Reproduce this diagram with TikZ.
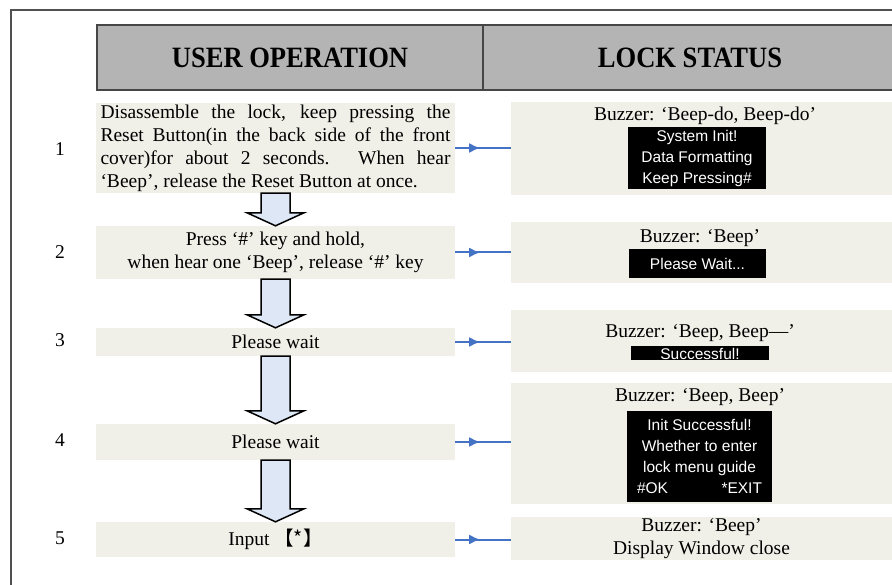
\documentclass[tikz,border=0pt]{standalone}
\usepackage{fontspec}
\setmainfont{Liberation Serif}
\newfontfamily\screenfont{Liberation Sans}
\newfontfamily\cjkfont{Noto Sans CJK SC}
\usepackage{graphicx}
\usetikzlibrary{calc,arrows.meta,decorations.markings}

\definecolor{boxfill}{RGB}{240,240,232}
\definecolor{headgray}{RGB}{180,180,180}
\definecolor{headline}{RGB}{70,70,70}
\definecolor{framegray}{RGB}{80,80,80}
\definecolor{linkblue}{RGB}{68,114,196}
\definecolor{arrowfill}{RGB}{222,231,246}

% big down arrow between two steps
\newcommand{\flowarrow}[2]{%
\draw[blockarrow] ($(#1.south)+(-14.5,0)$) -- ($(#2.north)+(-14.5,-13)$)
  -- ($(#2.north)+(-28.5,-13)$) -- (#2.north) -- ($(#2.north)+(28.5,-13)$)
  -- ($(#2.north)+(14.5,-13)$) -- ($(#1.south)+(14.5,0)$) -- cycle;}

\begin{document}
\begin{tikzpicture}[x=1pt,y=-1pt,
  every node/.style={font=\fontsize{19.5}{23}\selectfont},
  head/.style={draw=headline,line width=2,fill=headgray,minimum height=65,
    font=\bfseries\fontsize{29.5}{32}\selectfont},
  opbox/.style={fill=boxfill,minimum width=359,inner xsep=4.5,inner ysep=0},
  stbox/.style={fill=boxfill,minimum width=381,inner sep=0},
  screen/.style={fill=black,text=white,align=center,inner sep=0,
    font=\screenfont\fontsize{15.5}{21}\selectfont},
  link/.style={linkblue,line width=2,decoration={markings,
    mark=at position 0.45 with {\arrow{Latex[length=11,width=10]}}},postaction=decorate},
  blockarrow/.style={draw=black,line width=1.5,fill=arrowfill,line join=miter}]
\clip (0,0) rectangle (892,585);

% outer frame
\draw[framegray,line width=2] (11,600) -- (11,10) -- (900,10);

% header
\node[head,minimum width=386] (hop) at (290,57.5) {\scalebox{0.9}[1]{USER OPERATION}};
\node[head,minimum width=414] (hst) at (690,57.5) {\scalebox{0.9}[1]{LOCK STATUS}};

% step numbers
\foreach \i/\y in {1/149,2/252,3/340,4/440,5/538}
\node (num\i) at (60,\y) {\i};

% user operation
\node[opbox,minimum height=90,text width=350,align=justify] (op1) at (275.5,148)
  {Disassemble the lock, keep pressing the\linebreak Reset Button(in the back side of the front\linebreak cover)for about 2 seconds. When hear\linebreak ‘Beep’, release the Reset Button at once.};
\node[opbox,minimum height=53,align=center] (op2) at (275.5,252.5)
  {Press ‘\#’ key and hold,\\when hear one ‘Beep’, release ‘\#’ key};
\node[opbox,minimum height=28] (op3) at (275.5,342) {Please wait};
\node[opbox,minimum height=36] (op4) at (275.5,442) {Please wait};
\node[opbox,minimum height=35] (op5) at (275.5,539.5) {Input {\cjkfont 【*】}};

% lock status
\node[stbox,minimum height=93] (st1) at (701.5,148.5) {};
\node[stbox,minimum height=61] (st2) at (701.5,252.5) {};
\node[stbox,minimum height=62] (st3) at (701.5,341) {};
\node[stbox,minimum height=121] (st4) at (701.5,443.5) {};
\node[stbox,minimum height=43,align=center] (st5) at (701.5,538.5)
  {Buzzer: ‘Beep’\\Display Window close};

\node (bz1) at (705,116) {Buzzer: ‘Beep-do, Beep-do’};
\node[screen,minimum width=138,minimum height=62] (sc1) at (697,158)
  {System Init!\\Data Formatting\\Keep Pressing\#};
\node (bz2) at (700,238) {Buzzer: ‘Beep’};
\node[screen,minimum width=137,minimum height=29] (sc2) at (697.5,263.5) {Please Wait...};
\node (bz3) at (700,333) {Buzzer: ‘Beep, Beep---’};
\node[screen,minimum width=138,minimum height=14,font=\screenfont\fontsize{15.5}{14}\selectfont] (sc3) at (700,353.5) {Successful!};
\node (bz4) at (700,397) {Buzzer: ‘Beep, Beep’};
\node[screen,minimum width=145,minimum height=91] (sc4) at (699.5,456.5)
  {Init Successful!\\Whether to enter\\lock menu guide\\\makebox[125pt]{\#OK\hfill*EXIT}};

% arrows
\flowarrow{op1}{op2}
\flowarrow{op2}{op3}
\flowarrow{op3}{op4}
\flowarrow{op4}{op5}
\foreach \i in {1,...,5}
\draw[link] (op\i.east) -- (op\i.east -| st\i.west);
\end{tikzpicture}
\end{document}
